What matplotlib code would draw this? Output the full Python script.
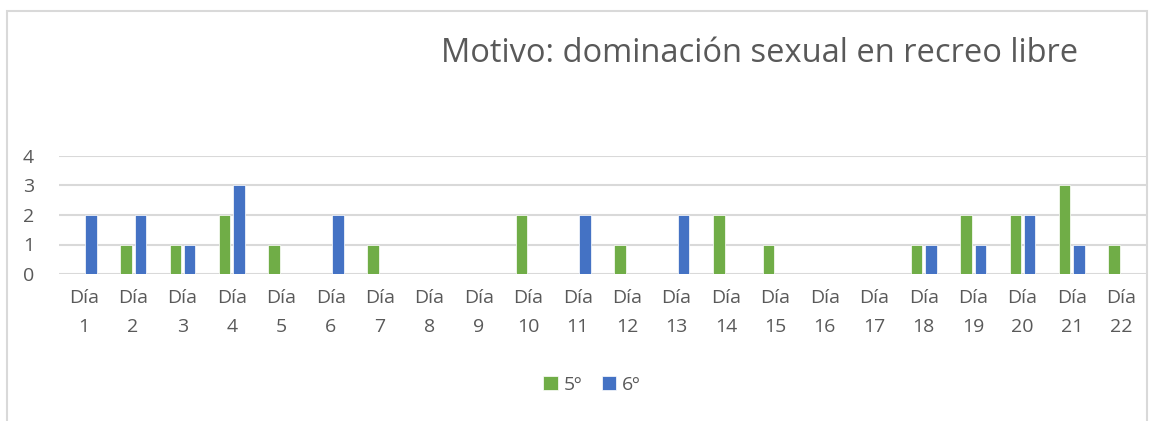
import numpy as np
import matplotlib.pyplot as plt
from matplotlib.patches import Rectangle

plt.rcParams['font.family'] = ['Open Sans', 'DejaVu Sans']

# Data
dias = [str(i) for i in range(1, 23)]
quinto = [0, 1, 1, 2, 1, 0, 1, 0, 0, 2, 0, 1, 0, 2, 1, 0, 0, 1, 2, 2, 3, 1]
sexto = [2, 2, 1, 3, 0, 2, 0, 0, 0, 0, 2, 0, 2, 0, 0, 0, 0, 1, 1, 2, 1, 0]
etiquetas = ['Día\n' + d for d in dias]

verde = '#70AD47'
azul = '#4472C4'
gris = '#595959'

fig = plt.figure(figsize=(11.61, 4.21), dpi=100)
W, H = 1161, 421

# outer chart frame
fig.patches.append(Rectangle((7 / W, -0.05), 1140 / W, (H - 11) / H + 0.05,
                             transform=fig.transFigure, fill=False,
                             edgecolor='#D9D9D9', linewidth=1.5))

ax = fig.add_axes([59 / W, 1 - 274 / H, (1146 - 59) / W, (274 - 156) / H])

x = np.arange(len(dias))
w = 0.23
ax.bar(x - 0.145, quinto, width=w, color=verde, edgecolor='white', linewidth=0.5,
       label='5º', zorder=3)
ax.bar(x + 0.145, sexto, width=w, color=azul, edgecolor='white', linewidth=0.5,
       label='6º', zorder=3)

ax.set_xlim(-0.5, len(dias) - 0.5)
ax.set_ylim(0, 4)
ax.set_yticks([0, 1, 2, 3, 4])
ax.set_xticks(x)
ax.set_xticklabels(etiquetas, fontsize=14, color=gris, linespacing=1.75)
ax.tick_params(axis='y', labelsize=14, colors=gris, length=0, pad=18)
ax.tick_params(axis='x', length=0, pad=11)
ax.grid(axis='y', color='#D9D9D9', linewidth=1.5, zorder=0)
for s in ax.spines.values():
    s.set_visible(False)

fig.text(760 / W, 1 - 53 / H, 'Motivo: dominación sexual en recreo libre',
         ha='center', va='center', fontsize=23.5, color=gris)

fig.legend(loc='center', bbox_to_anchor=(592 / W, 1 - 385 / H), ncol=2,
           frameon=False, fontsize=14, labelcolor=gris, handlelength=0.75,
           handleheight=0.75, handletextpad=0.3, columnspacing=1.0)

fig.savefig('out.png', dpi=100)
